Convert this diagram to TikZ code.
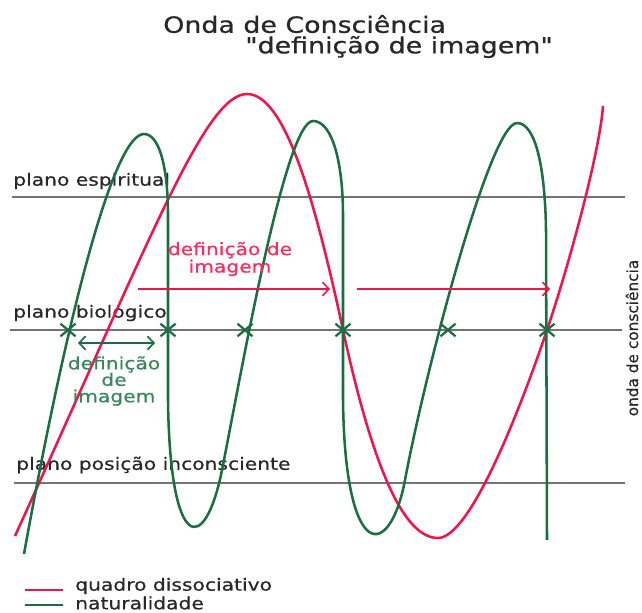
\documentclass[tikz,border=0pt]{standalone}
\usepackage{fontspec}
\setmainfont{DejaVu Sans}[FakeStretch=1.2, FakeBold=0.6]
\newfontfamily\titlefont{DejaVu Sans}[FakeStretch=1.2, FakeBold=0.6]
\newfontfamily\sidefont{DejaVu Sans}[FakeBold=0.6]
\usetikzlibrary{arrows.meta,shapes.misc}
\definecolor{wavered}{RGB}{240,20,72}
\definecolor{wavegreen}{RGB}{26,110,66}
\definecolor{textred}{RGB}{250,45,95}
\definecolor{textgreen}{RGB}{55,135,90}
\definecolor{textgray}{RGB}{40,40,40}
\tikzset{>={Straight Barb[length=1.6mm,width=3.4mm]}}
\tikzset{
  plane/.style={draw=black!55, line width=0.9pt},
  planelabel/.style={anchor=west, inner sep=0pt, text=textgray, font=\fontsize{12}{11.5}\selectfont},
  titlelabel/.style={anchor=west, inner sep=0pt, text=textgray, font=\titlefont\fontsize{15.9}{18}\selectfont},
  redwave/.style={draw=wavered, line width=1.8pt},
  greenwave/.style={draw=wavegreen, line width=1.8pt},
  crossmark/.style={cross out, draw=wavegreen, line width=1.6pt, minimum width=3.2mm, minimum height=2.6mm, inner sep=0pt},
}

\begin{document}
\begin{tikzpicture}[x=0.025cm, y=-0.025cm]
  \useasboundingbox (0,0) rectangle (642,612);
  \node[titlelabel] (title1) at (163,24) {Onda de Consciência};
  \node[titlelabel] (title2) at (245,47) {"definição de imagem"};

  \coordinate (esp-w) at (12,197);
  \coordinate (esp-e) at (625,197);
  \coordinate (bio-w) at (10,330);
  \coordinate (bio-e) at (622,330);
  \coordinate (inc-w) at (14,483);
  \coordinate (inc-e) at (625,483);
  \draw[plane] (esp-w) -- (esp-e);
  \draw[plane] (bio-w) -- (bio-e);
  \draw[plane] (inc-w) -- (inc-e);
  \node[planelabel] (lblesp) at (13,181) {plano espiritual};
  \node[planelabel] (lblbio) at (13,313) {plano biologico};
  \node[planelabel] (lblinc) at (16,465) {plano posição inconsciente};

  \draw[redwave] (15,536) .. controls (150,240) and (205,94) .. (247,94)
    .. controls (285,94) and (315,200) .. (343,330)
    .. controls (374,473) and (405,538) .. (438,538)
    .. controls (470,538) and (520,410) .. (547,330)
    .. controls (570,262) and (600,150) .. (603,106);
  \draw[greenwave] (24,554) .. controls (70,300) and (115,134) .. (144,134)
    .. controls (160,134) and (168,170) .. (168,215) -- (168,400)
    .. controls (170,555) and (205,555) .. (222,470)
    .. controls (240,380) and (285,121) .. (313,121)
    .. controls (333,121) and (343,165) .. (343,215) -- (343,400)
    .. controls (345,565) and (390,560) .. (405,480)
    .. controls (425,373) and (490,123) .. (517,123)
    .. controls (535,123) and (545,165) .. (546,230) -- (547,540);

  \foreach \xm [count=\i] in {68,168,245,343,448,547}
    \node[crossmark] (mark\i) at (\xm,330) {};

  \node[align=center, inner sep=0pt, text=textred, font=\fontsize{12}{11}\selectfont] (redlbl) at (230,259) {definição de\\imagem};
  \coordinate (ra-w) at (138,289);
  \coordinate (ra-e) at (330,289);
  \coordinate (rb-w) at (357,289);
  \coordinate (rb-e) at (550,289);
  \draw[->, wavered, line width=1.1pt] (ra-w) -- (ra-e);
  \draw[->, wavered, line width=1.1pt] (rb-w) -- (rb-e);

  \node[align=center, inner sep=0pt, text=textgreen, font=\fontsize{12}{11.7}\selectfont] (greenlbl) at (114,381) {definição\\de\\imagem};
  \coordinate (ga-w) at (78,343);
  \coordinate (ga-e) at (155,343);
  \draw[<->, wavegreen, line width=1.2pt] (ga-w) -- (ga-e);

  \node[rotate=90, inner sep=0pt, text=textgray, font=\sidefont\fontsize{10.9}{12}\selectfont] (sidelbl) at (632,338) {onda de consciência};

  \coordinate (lr-w) at (25,590);
  \coordinate (lr-e) at (63,590);
  \coordinate (lg-w) at (25,605);
  \coordinate (lg-e) at (63,605);
  \draw[wavered, line width=1.6pt] (lr-w) -- (lr-e);
  \draw[wavegreen, line width=1.6pt] (lg-w) -- (lg-e);
  \node[planelabel] (legred) at (75,586) {quadro dissociativo};
  \node[planelabel] (leggreen) at (75,603) {naturalidade};
\end{tikzpicture}
\end{document}
